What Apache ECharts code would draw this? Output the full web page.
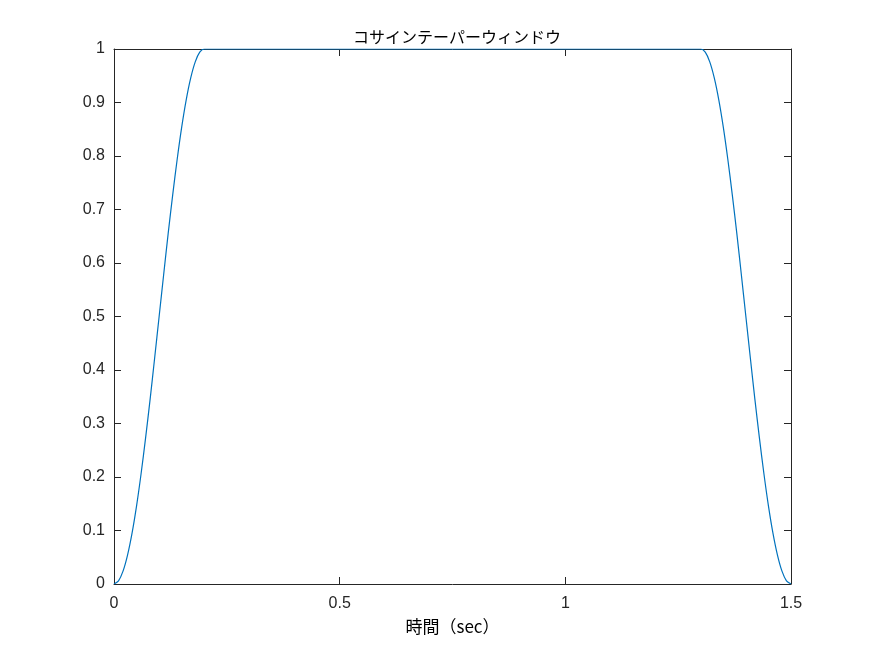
<!DOCTYPE html>
<html>
<head>
<meta charset="utf-8">
<script src="https://cdn.jsdelivr.net/npm/echarts@6/dist/echarts.min.js"></script>
<style>html,body{margin:0;padding:0;background:#fff}#c{width:875px;height:656px}</style>
</head>
<body>
<div id="c"></div>
<script>
// Time (sec)
const times = [0, 0.01, 0.02, 0.03, 0.04, 0.05, 0.06, 0.07, 0.08, 0.09, 0.10,
  0.11, 0.12, 0.13, 0.14, 0.15, 0.16, 0.17, 0.18, 0.19, 0.20,
  1.30, 1.31, 1.32, 1.33, 1.34, 1.35, 1.36, 1.37, 1.38, 1.39, 1.40,
  1.41, 1.42, 1.43, 1.44, 1.45, 1.46, 1.47, 1.48, 1.49, 1.50];
// Window amplitude
const values = [0, 0.006, 0.024, 0.054, 0.095, 0.146, 0.206, 0.273, 0.345, 0.422, 0.5,
  0.578, 0.655, 0.727, 0.794, 0.854, 0.905, 0.946, 0.976, 0.994, 1,
  1, 0.994, 0.976, 0.946, 0.905, 0.854, 0.794, 0.727, 0.655, 0.578, 0.5,
  0.422, 0.345, 0.273, 0.206, 0.146, 0.095, 0.054, 0.024, 0.006, 0];
const xTicks = [0, 0.5, 1, 1.5];
const yTicks = [0, 0.1, 0.2, 0.3, 0.4, 0.5, 0.6, 0.7, 0.8, 0.9, 1];
const titleText = 'コサインテーパーウィンドウ';
const xLabel = '時間（sec）';

const axisColor = '#262626';
const lblFont = {color: axisColor, fontSize: 16, fontFamily: 'Liberation Sans, Arial, sans-serif'};
const fmt = v => String(Math.round(v * 10) / 10);
const lineStyle = {show: true, onZero: false, lineStyle: {color: axisColor, width: 1}};
const tick = {show: true, inside: true, length: 7, lineStyle: {color: axisColor}};

const chart = echarts.init(document.getElementById('c'));
chart.setOption({
  animation: false,
  title: {
    text: titleText, left: 452, top: 24, textAlign: 'center',
    textStyle: {fontFamily: 'Noto Sans CJK JP', fontSize: 16, fontWeight: 'normal', color: '#000'}
  },
  grid: {left: 114, top: 49, right: 84, bottom: 72, containLabel: false},
  xAxis: [{
    type: 'value', min: xTicks[0], max: xTicks[xTicks.length - 1], interval: 0.5,
    name: xLabel, nameLocation: 'middle', nameGap: 34,
    nameTextStyle: {fontFamily: 'Noto Sans CJK JP', fontSize: 17, color: '#000'},
    axisLine: lineStyle, axisTick: tick,
    axisLabel: Object.assign({margin: 12, formatter: fmt}, lblFont),
    splitLine: {show: false}
  }, {
    type: 'value', position: 'top', min: xTicks[0], max: xTicks[xTicks.length - 1], interval: 0.5,
    axisLine: lineStyle, axisTick: tick,
    axisLabel: {show: false}, splitLine: {show: false}
  }],
  yAxis: [{
    type: 'value', min: yTicks[0], max: yTicks[yTicks.length - 1], interval: 0.1,
    axisLine: lineStyle, axisTick: tick,
    axisLabel: Object.assign({margin: 9, formatter: fmt}, lblFont),
    splitLine: {show: false}
  }, {
    type: 'value', position: 'right', min: yTicks[0], max: yTicks[yTicks.length - 1], interval: 0.1,
    axisLine: lineStyle, axisTick: tick,
    axisLabel: {show: false}, splitLine: {show: false}
  }],
  series: [{
    type: 'line',
    data: times.map((t, i) => [t, values[i]]),
    smooth: 0.3,
    showSymbol: false,
    lineStyle: {color: '#0072BD', width: 1.2},
    clip: true
  }]
});
</script>
</body>
</html>
